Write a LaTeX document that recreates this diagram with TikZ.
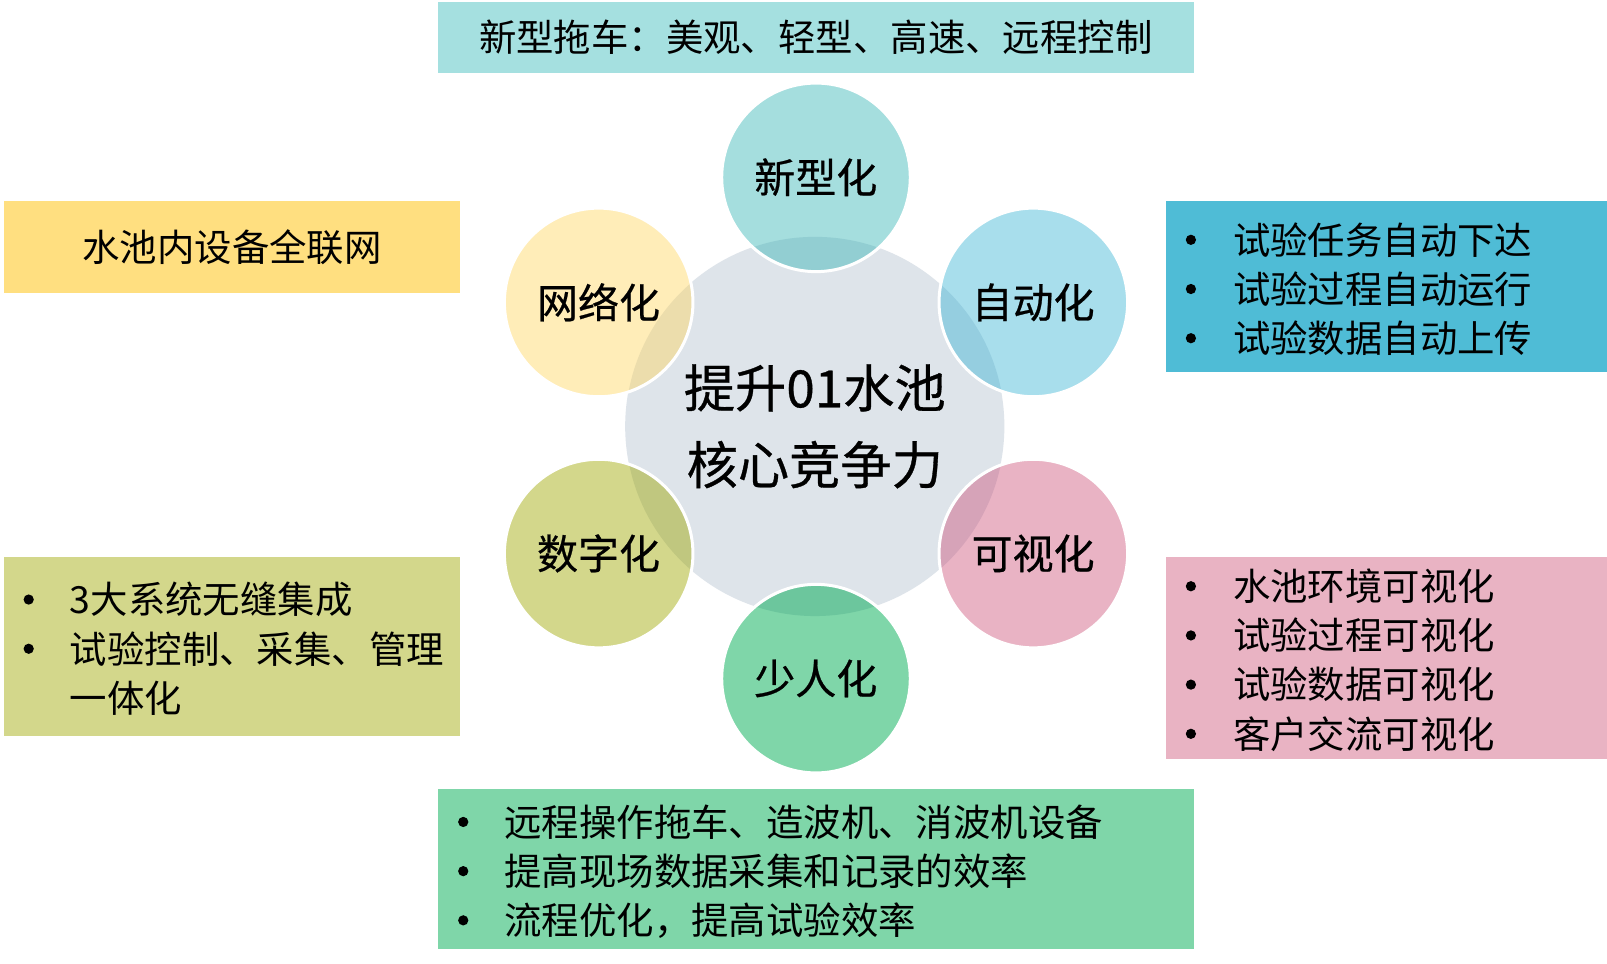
\documentclass[tikz,border=0pt]{standalone}
\usepackage{fontspec}
\setmainfont{Noto Sans CJK SC}
\newfontfamily\labfont[FakeBold=0.6]{Noto Sans CJK SC}
\definecolor{corec}{RGB}{222,228,234}
\definecolor{tealc}{RGB}{165,222,222}
\definecolor{tealo}{RGB}{146,206,210}
\definecolor{bluec}{RGB}{168,222,236}
\definecolor{blueo}{RGB}{149,206,224}
\definecolor{pinkc}{RGB}{233,179,196}
\definecolor{pinko}{RGB}{214,163,184}
\definecolor{greenc}{RGB}{127,214,169}
\definecolor{greeno}{RGB}{108,198,157}
\definecolor{olivec}{RGB}{211,215,139}
\definecolor{oliveo}{RGB}{192,199,127}
\definecolor{yelc}{RGB}{255,237,184}
\definecolor{yelo}{RGB}{236,221,172}
\definecolor{topbg}{RGB}{165,224,224}
\definecolor{yelbg}{RGB}{255,223,128}
\definecolor{bluebg}{RGB}{79,188,214}
\definecolor{pinkbg}{RGB}{233,179,195}
\definecolor{olivebg}{RGB}{211,215,139}
\definecolor{greenbg}{RGB}{127,214,169}
\tikzset{
  sat/.style={circle, minimum size=184pt, inner sep=0pt, font=\labfont\fontsize{40}{44}\selectfont},
  boxc/.style={rectangle, inner sep=0pt, font=\fontsize{36.5}{44}\selectfont},
  itemtext/.style={anchor=west, inner sep=0pt, font=\fontsize{36.5}{44}\selectfont},
  bul/.style={circle, fill=black, inner sep=0pt, minimum size=10pt},
  ring/.style={draw=white, line width=3pt}
}
\begin{document}
\begin{tikzpicture}[x=1pt,y=-1pt,scale=1.0249,every node/.append style={transform shape}]
\useasboundingbox (0,0) rectangle (1568,940.56);
\fill[white] (0,0) rectangle (1568,940.56);

% boxes
\node[boxc, fill=topbg, minimum width=738pt, minimum height=69pt] (topbox) at (796,36.5) {新型拖车：美观、轻型、高速、远程控制};
\node[boxc, fill=yelbg, minimum width=445pt, minimum height=90pt] (yelbox) at (226.5,241) {水池内设备全联网};
\node[boxc, fill=bluebg, minimum width=430pt, minimum height=167pt] (bluebox) at (1353,279.5) {};
\node[boxc, fill=pinkbg, minimum width=430pt, minimum height=198pt] (pinkbox) at (1353,642) {};
\node[boxc, fill=olivebg, minimum width=445pt, minimum height=175pt] (olivebox) at (226.5,630.5) {};
\node[boxc, fill=greenbg, minimum width=738pt, minimum height=156pt] (greenbox) at (796,848) {};

% blue list
\node[bul] (bb1) at (1162,234) {};
\node[bul] (bb2) at (1162,282) {};
\node[bul] (bb3) at (1162,330) {};
\node[itemtext] (bt1) at (1203,234) {试验任务自动下达};
\node[itemtext] (bt2) at (1203,282) {试验过程自动运行};
\node[itemtext] (bt3) at (1203,330) {试验数据自动上传};

% pink list
\node[bul] (pb1) at (1162,572) {};
\node[bul] (pb2) at (1162,620) {};
\node[bul] (pb3) at (1162,668) {};
\node[bul] (pb4) at (1162,716) {};
\node[itemtext] (pt1) at (1203,572) {水池环境可视化};
\node[itemtext] (pt2) at (1203,620) {试验过程可视化};
\node[itemtext] (pt3) at (1203,668) {试验数据可视化};
\node[itemtext] (pt4) at (1203,716) {客户交流可视化};

% olive list
\node[bul] (ob1) at (28,585) {};
\node[bul] (ob2) at (28,633) {};
\node[itemtext] (ot1) at (68,585) {3大系统无缝集成};
\node[itemtext] (ot2) at (68,633) {试验控制、采集、管理};
\node[itemtext] (ot3) at (68,681) {一体化};

% green list
\node[bul] (gb1) at (452,802) {};
\node[bul] (gb2) at (452,850) {};
\node[bul] (gb3) at (452,898) {};
\node[itemtext] (gt1) at (492,802) {远程操作拖车、造波机、消波机设备};
\node[itemtext] (gt2) at (492,850) {提高现场数据采集和记录的效率};
\node[itemtext] (gt3) at (492,898) {流程优化，提高试验效率};

% core circle
\node[circle, fill=corec, minimum size=370pt, inner sep=0pt, align=center,
      font=\labfont\fontsize{50}{75}\selectfont] (core) at (795,416) {提升01水池\\核心竞争力};

% satellites
\node[sat, fill=tealc] (s1) at (796,173) {新型化};
\node[sat, fill=bluec] (s2) at (1008,295) {自动化};
\node[sat, fill=pinkc] (s3) at (1008,540) {可视化};
\node[sat, fill=greenc] (s4) at (796,662) {少人化};
\node[sat, fill=olivec] (s5) at (584,540) {数字化};
\node[sat, fill=yelc] (s6) at (584,295) {网络化};

% overlaps
\begin{scope}\clip (s1.center) circle (92); \fill[tealo] (core.center) circle (185); \end{scope}
\begin{scope}\clip (s2.center) circle (92); \fill[blueo] (core.center) circle (185); \end{scope}
\begin{scope}\clip (s3.center) circle (92); \fill[pinko] (core.center) circle (185); \end{scope}
\begin{scope}\clip (s4.center) circle (92); \fill[greeno] (core.center) circle (185); \end{scope}
\begin{scope}\clip (s5.center) circle (92); \fill[oliveo] (core.center) circle (185); \end{scope}
\begin{scope}\clip (s6.center) circle (92); \fill[yelo] (core.center) circle (185); \end{scope}

% white rings
\foreach \s in {s1,s2,s3,s4,s5,s6} { \draw[ring] (\s.center) circle (92); }
\end{tikzpicture}
\end{document}
